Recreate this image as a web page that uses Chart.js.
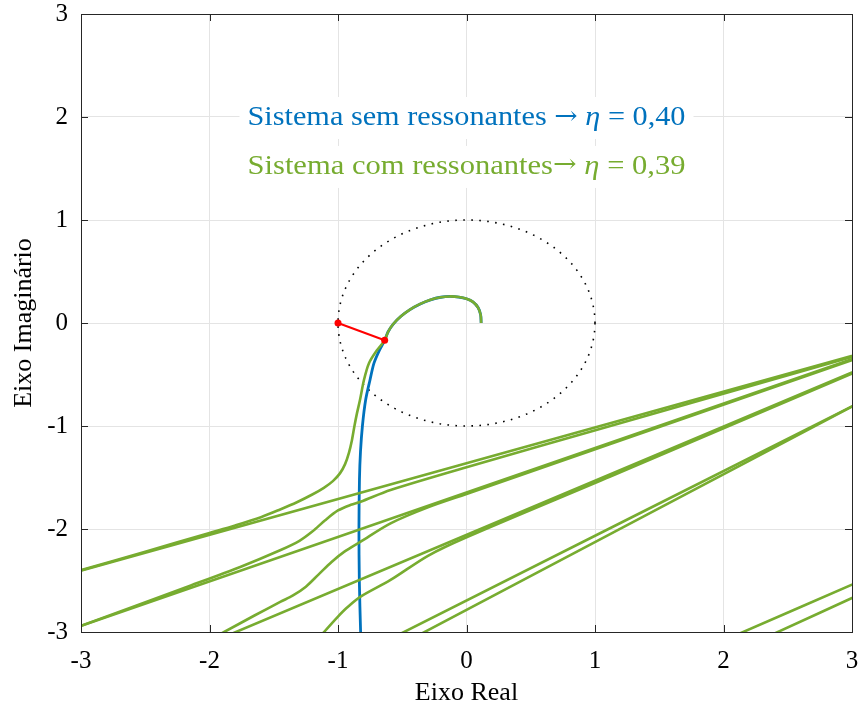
<!DOCTYPE html>
<html><head><meta charset="utf-8">
<script src="https://cdn.jsdelivr.net/npm/chart.js@4/dist/chart.umd.min.js"></script>
<style>html,body{margin:0;padding:0;background:#fff}canvas{display:block}</style>
</head><body>
<canvas id="c" width="861" height="710"></canvas>
<script>
// ---- tick values / labels ----
const xTickValues = [-3, -2, -1, 0, 1, 2, 3];
const yTickValues = [-3, -2, -1, 0, 1, 2, 3];
const xAxisTitle = 'Eixo Real';
const yAxisTitle = 'Eixo Imaginário';
const noteSem = ['Sistema sem ressonantes ', '\u2192', ' ', '\u03B7', ' = 0,40'];
const noteCom = ['Sistema com ressonantes', '\u2192', ' ', '\u03B7', ' = 0,39'];

// ---- series (real, imag) ----
const semRessonantes = [[0.114,0.0],[0.11,0.08],[0.09,0.15],[0.05,0.205],[0.0,0.235],[-0.06,0.252],[-0.13,0.258],[-0.2,0.25],[-0.28,0.225],[-0.36,0.185],[-0.44,0.13],[-0.51,0.065],[-0.57,-0.01],[-0.61,-0.085],[-0.637,-0.168],[-0.68,-0.27],[-0.72,-0.39],[-0.751,-0.553],[-0.785,-0.748],[-0.81,-1.0],[-0.825,-1.25],[-0.833,-1.52],[-0.837,-2.0],[-0.834,-2.5],[-0.824,-3.0],[-0.82,-3.1]];

const comRessonantes0 = [[0.114,0.0],[0.11,0.08],[0.09,0.15],[0.05,0.205],[0.0,0.235],[-0.06,0.252],[-0.13,0.258],[-0.2,0.25],[-0.28,0.225],[-0.36,0.185],[-0.44,0.13],[-0.51,0.065],[-0.57,-0.01],[-0.61,-0.085],[-0.637,-0.168],[-0.70,-0.27],[-0.759,-0.39],[-0.798,-0.553],[-0.829,-0.748],[-0.853,-0.88],[-0.872,-1.0],[-0.892,-1.14],[-0.915,-1.26],[-0.945,-1.37],[-0.985,-1.46],[-1.04,-1.535],[-1.11,-1.6],[-1.2,-1.665],[-1.32,-1.74],[-1.45,-1.81],[-1.6,-1.885],[-1.8,-1.965],[-2.0,-2.038],[-2.5,-2.22],[-3.0,-2.40],[-3.2,-2.47]];
const comRessonantes1 = [[-3.2,-2.4745],[3.2,-0.2505]];
const comRessonantes2 = [[3.2,-0.258],[3.0,-0.33],[1.119,-1.0],[0.0,-1.40],[-0.591,-1.621],[-0.824,-1.735],[-0.9,-1.765],[-1.0,-1.82],[-1.1,-1.915],[-1.2,-2.025],[-1.3,-2.115],[-1.446,-2.204],[-1.756,-2.366],[-2.145,-2.548],[-3.0,-2.94],[-3.2,-3.03]];
const comRessonantes3 = [[-3.2,-3.026],[3.2,-0.264]];
const comRessonantes4 = [[3.2,-0.27],[3.0,-0.36],[1.119,-1.175],[0.0,-1.66],[-0.3,-1.79],[-0.591,-1.945],[-0.824,-2.123],[-0.95,-2.22],[-1.05,-2.32],[-1.15,-2.44],[-1.25,-2.56],[-1.35,-2.645],[-1.446,-2.706],[-1.65,-2.84],[-1.886,-3.0],[-2.0,-3.078]];
const comRessonantes5 = [[-1.985,-3.1],[3.2,-0.375]];
const comRessonantes6 = [[3.2,-0.385],[3.0,-0.49],[1.119,-1.49],[0.0,-2.08],[-0.3,-2.26],[-0.591,-2.495],[-0.824,-2.657],[-0.927,-2.76],[-1.0,-2.85],[-1.109,-3.0],[-1.18,-3.1]];
const comRessonantes7 = [[-0.55,-3.04],[3.2,-0.684]];
const comRessonantes8 = [[-0.39,-3.042],[3.2,-0.68]];
const comRessonantes9 = [[2.0,-3.083],[3.2,-2.431]];
const comRessonantes10 = [[2.3,-3.07],[3.2,-2.556]];

const margemSegmento = [[-1.0,0.0],[-0.637,-0.168]];

// unit circle (reference geometry)
const circuloUnitario = [];
for (let k = 0; k <= 360; k += 2) {
  const a = k * Math.PI / 180;
  circuloUnitario.push([Math.cos(a), Math.sin(a)]);
}

const BLUE = '#0072BD', GREEN = '#77AC30', RED = '#FF0000';
const toPts = arr => arr.map(p => ({x: p[0], y: p[1]}));

const greenSegs = [comRessonantes0, comRessonantes1, comRessonantes2, comRessonantes3, comRessonantes4,
  comRessonantes5, comRessonantes6, comRessonantes7, comRessonantes8, comRessonantes9, comRessonantes10];

const datasets = [];
datasets.push({data: toPts(margemSegmento), borderColor: RED, backgroundColor: RED, borderWidth: 2,
  pointRadius: 3.5, pointBackgroundColor: RED, pointBorderWidth: 0, showLine: true, order: 0, clip: 0});
greenSegs.forEach(s => datasets.push({data: toPts(s), borderColor: GREEN, borderWidth: 2.6,
  pointRadius: 0, showLine: true, order: 1, clip: 0, tension: 0.3}));
datasets.push({data: toPts(semRessonantes), borderColor: BLUE, borderWidth: 2.8, pointRadius: 0,
  showLine: true, order: 2, clip: 0, tension: 0.3});
datasets.push({data: toPts(circuloUnitario), borderColor: '#000', borderWidth: 1.6, borderDash: [1.6, 6.4],
  pointRadius: 0, showLine: true, order: 3, clip: 0});

const tickFont = {family: 'Liberation Serif', size: 25};
const titleFont = {family: 'Liberation Serif', size: 26};

const notesPlugin = {
  id: 'notes',
  afterDatasetsDraw(chart) {
    const {ctx, scales: {x, y}} = chart;
    const items = [[noteSem, BLUE, 1.99], [noteCom, GREEN, 1.515]];
    ctx.save();
    const size = 27;
    const fonts = [`${size}px "Liberation Serif"`, `${size - 2}px "DejaVu Serif"`, `${size}px "Liberation Serif"`,
      `italic ${size}px "Liberation Serif"`, `${size}px "Liberation Serif"`];
    items.forEach(([parts, color, yv]) => {
      let w = 0; const ws = [];
      parts.forEach((p, i) => { ctx.font = fonts[i]; const m = ctx.measureText(p).width; ws.push(m); w += m; });
      const cx = x.getPixelForValue(0), cy = y.getPixelForValue(yv);
      const sx = 438 / w;
      ctx.fillStyle = '#fff';
      ctx.fillRect(cx - 438 / 2 - 8, cy - 21, 438 + 16, 42);
      ctx.save();
      ctx.translate(cx - 438 / 2, cy);
      ctx.scale(sx, 1);
      let px = 0;
      ctx.fillStyle = color; ctx.textBaseline = 'middle'; ctx.textAlign = 'left';
      parts.forEach((p, i) => { ctx.font = fonts[i]; ctx.fillText(p, px, i === 1 ? -1 : 0); px += ws[i]; });
      ctx.restore();
    });
    ctx.restore();
  }
};

const framePlugin = {
  id: 'frame',
  afterDraw(chart) {
    const {ctx, chartArea: {left, right, top, bottom}, scales: {x, y}} = chart;
    ctx.save();
    ctx.strokeStyle = '#262626';
    ctx.lineWidth = 1;
    ctx.beginPath();
    const L = 7;
    xTickValues.forEach(v => {
      const px = Math.round(x.getPixelForValue(v)) + 0.5;
      ctx.moveTo(px, bottom); ctx.lineTo(px, bottom - L);
      ctx.moveTo(px, top); ctx.lineTo(px, top + L);
    });
    yTickValues.forEach(v => {
      const py = Math.round(y.getPixelForValue(v)) + 0.5;
      ctx.moveTo(left, py); ctx.lineTo(left + L, py);
      ctx.moveTo(right, py); ctx.lineTo(right - L, py);
    });
    ctx.stroke();
    ctx.strokeRect(Math.round(left) + 0.5, Math.round(top) + 0.5, Math.round(right - left), Math.round(bottom - top));
    ctx.restore();
  }
};

new Chart(document.getElementById('c'), {
  type: 'scatter',
  data: {datasets},
  plugins: [notesPlugin, framePlugin],
  options: {
    responsive: false,
    animation: false,
    devicePixelRatio: 1,
    layout: {padding: {left: 0, top: 14, right: 9, bottom: 0}},
    plugins: {legend: {display: false}, tooltip: {enabled: false}},
    scales: {
      x: {
        type: 'linear', min: -3, max: 3,
        afterBuildTicks: s => { s.ticks = xTickValues.map(v => ({value: v})); },
        ticks: {font: tickFont, color: '#000', padding: 14, maxRotation: 0, callback: v => String(v)},
        grid: {color: '#e4e4e4', lineWidth: 1, drawTicks: false},
        border: {display: false},
        title: {display: true, text: xAxisTitle, font: titleFont, color: '#000', padding: {top: 0, bottom: 1}},
        afterFit: s => { s.height = 78; s.paddingLeft = 0; s.paddingRight = 0; }
      },
      y: {
        type: 'linear', min: -3, max: 3,
        afterBuildTicks: s => { s.ticks = yTickValues.map(v => ({value: v})); },
        ticks: {font: tickFont, color: '#000', padding: 13, callback: v => String(v)},
        grid: {color: '#e4e4e4', lineWidth: 1, drawTicks: false},
        border: {display: false},
        title: {display: true, text: yAxisTitle, font: titleFont, color: '#000', padding: {top: 9, bottom: 0}},
        afterFit: s => { s.width = 81; s.paddingTop = 0; s.paddingBottom = 0; }
      }
    }
  }
});
</script>
</body></html>
